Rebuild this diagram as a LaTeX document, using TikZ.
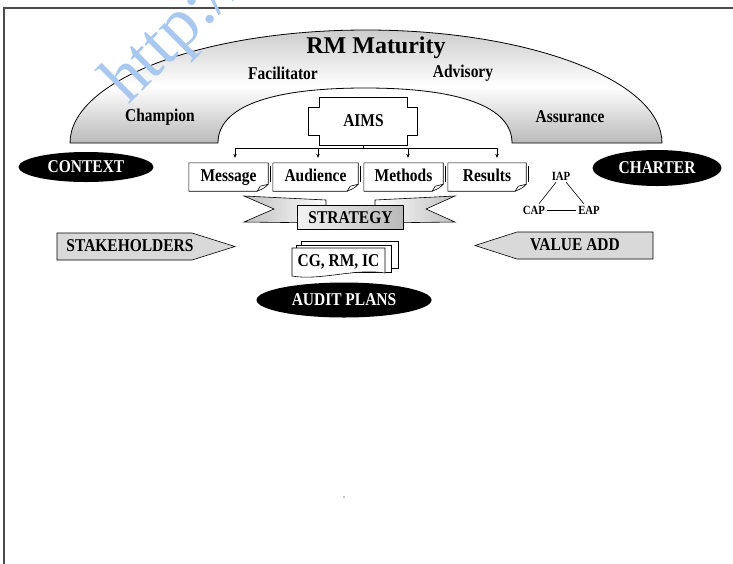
\documentclass[tikz,border=0pt]{standalone}
\usepackage{fontspec}
\setmainfont{Liberation Serif}
\newfontfamily\cond[FakeStretch=0.86]{Liberation Serif}
\usetikzlibrary{shapes.geometric,arrows.meta,calc}
\definecolor{wm}{RGB}{168,200,240}
\newcommand\docoutline[1]{%
  \draw[edge] (#1.north west) -- (#1.north east) -- ($(#1.south east)+(0,-7)$)
    .. controls ($(#1.south east)+(-4,-3)$) .. ($(#1.south east)+(-11,0)$) -- (#1.south west) -- cycle;
  \draw[edge] ($(#1.south east)+(-11,0)$) -- ($(#1.south east)+(-8,-5)$) -- ($(#1.south east)+(0,-7)$);
  \draw[edge] ($(#1.north east)+(2.5,3)$) -- ($(#1.south east)+(2.5,-9)$);
}
\tikzset{
  lbl/.style={font=\cond\fontsize{18}{20}\selectfont\bfseries, inner sep=1pt},
  blk/.style={ellipse, fill=black, text=white, inner sep=0pt, font=\cond\fontsize{18}{20}\selectfont\bfseries},
  docb/.style={lbl, minimum height=28pt, inner sep=0pt, text height=12pt, text depth=3.5pt},
  small/.style={font=\cond\fontsize{12.5}{13}\selectfont\bfseries, inner sep=2pt},
  arr/.style={-{Stealth[length=4pt,width=3.5pt]}, line width=0.5pt},
  edge/.style={line width=0.6pt},
}
\begin{document}
\begin{tikzpicture}[x=1pt,y=-1pt]
\useasboundingbox (0,0) rectangle (733,563);
\fill[white] (0,0) rectangle (733,563);
\draw[line width=1.6pt, gray!60!black] (4,570) -- (4,8) -- (740,8);

% arch
\draw[line width=0.8pt, top color=gray!40, bottom color=gray!55, middle color=white]
  (70,143) .. controls (70,80.6) and (202.5,30) .. (366,30)
  .. controls (529.5,30) and (662,80.6) .. (662,143)
  -- (512,143) .. controls (512,107) and (460.5,88) .. (365,88)
  .. controls (269.5,88) and (218,107) .. (218,143) -- cycle;

\node[font=\fontsize{24}{26}\selectfont\bfseries] (rm) at (376,48) {RM Maturity};
\node[lbl] (fac) at (283,73) {Facilitator};
\node[lbl] (adv) at (463,73) {Advisory};
\node[lbl] (champ) at (160,117) {Champion};
\node[lbl] (assur) at (570,117) {Assurance};

% AIMS
\node[lbl, minimum width=88pt, minimum height=48pt, inner sep=0pt] (aims) at (363.5,121) {AIMS};
\draw[edge] (aims.north west) -- (aims.north east) -- ($(aims.north east)+(0,10)$) -- ++(10,0)
  -- ($(aims.south east)+(10,-10)$) -- ++(-10,0) -- (aims.south east) -- (aims.south west)
  -- ++(0,-10) -- ++(-11,0) -- ($(aims.north west)+(-11,10)$) -- ++(11,0) -- cycle;

% document boxes
\node[docb, minimum width=79pt] (msg) at (228.5,177) {Message};
\node[docb, minimum width=85pt] (aud) at (315.5,177) {Audience};
\node[docb, minimum width=79pt] (meth) at (403.5,177) {Methods};
\node[docb, minimum width=78pt] (res) at (487,177) {Results};
\foreach \n in {msg,aud,meth,res} {\docoutline{\n}}

\coordinate (bus) at ($(aims.south)+(0,3)$);
\coordinate (t1) at ($(msg.north)+(6.5,0)$);
\coordinate (t2) at ($(aud.north)+(2.5,0)$);
\coordinate (t3) at ($(meth.north)+(4.5,0)$);
\coordinate (t4) at ($(res.north)+(10,0)$);
\draw[edge] (aims.south) -- (bus);
\draw[edge] (t1 |- bus) -- (t4 |- bus);
\foreach \t in {t1,t2,t3,t4} {\draw[arr] (\t |- bus) -- ($(\t)+(0,-5)$);}

% strategy banner
\draw[edge, left color=gray!50, right color=white] (244,196) -- (326,200) -- (326,223) -- (244,222) -- (274,209) -- cycle;
\draw[edge, left color=white, right color=gray!50] (455,196) -- (375,200) -- (375,223) -- (455,222) -- (426,209) -- cycle;
\node[lbl, draw, line width=0.6pt, minimum width=106pt, minimum height=24pt, inner sep=0pt,
      left color=gray!10, right color=gray!55] (strat) at (350.5,217.5) {STRATEGY};

% CG stack
\draw[edge, fill=white] (301,241) rectangle (398,268);
\draw[edge, fill=white] (296,245) rectangle (391,272);
\draw[edge, fill=white] (292,248) -- (385,248) -- (385,273) .. controls (355,268) and (320,281) .. (292,276) -- cycle;
\node[lbl, minimum width=93pt, minimum height=27pt, inner sep=0pt] (cg) at (338.5,261.5) {CG, RM, IC};

% black ellipses
\node[blk, minimum width=135pt, minimum height=30pt] (ctx) at (86,167) {CONTEXT};
\node[blk, minimum width=129pt, minimum height=36pt] (chr) at (657,168) {CHARTER};
\node[blk, minimum width=175pt, minimum height=35pt] (ap) at (344,300) {AUDIT PLANS};

% arrows
\draw[edge, fill=gray!30] (57,233) -- (192,233) -- (235,246.5) -- (192,260) -- (57,260) -- cycle;
\node[lbl] (stk) at (130,246) {STAKEHOLDERS};
\draw[edge, fill=gray!30] (653,232) -- (517,232) -- (475,245.5) -- (517,259) -- (653,259) -- cycle;
\node[lbl] (va) at (575,245) {VALUE ADD};

% IAP triangle
\node[small] (iap) at (561,176) {IAP};
\node[small] (cap) at (534,210) {CAP};
\node[small] (eap) at (589,210) {EAP};
\draw[edge] (iap) -- (cap);
\draw[edge] (iap) -- (eap);
\draw[edge] (cap) -- (eap);

\fill (344,497) circle (0.6);

% watermark
\node[font=\fontsize{70}{70}\selectfont, text=wm, rotate=45, anchor=base west, inner sep=0pt] (wmk) at (128,106) {http://};
\end{tikzpicture}
\end{document}
